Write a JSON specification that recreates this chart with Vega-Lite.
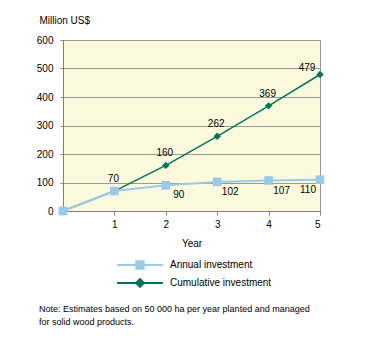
{
  "$schema": "https://vega.github.io/schema/vega-lite/v6.json",
  "width": 257,
  "height": 171,
  "autosize": {"type": "none"},
  "padding": {"left": 63, "top": 40, "right": 47, "bottom": 130},
  "background": "#ffffff",
  "config": {
    "font": "Liberation Sans",
    "view": {"fill": "#FCFADC", "stroke": "#999999", "strokeWidth": 1},
    "axis": {"labelFont": "Liberation Sans", "titleFont": "Liberation Sans", "labelColor": "#000000", "titleColor": "#000000", "labelFontSize": 10, "titleFontSize": 10, "titleFontWeight": "normal", "domainColor": "#7f7f7f", "tickColor": "#7f7f7f"}
  },
  "title": {
    "text": ["Note: Estimates based on 50 000 ha per year planted and managed", "for solid wood products."],
    "orient": "bottom",
    "anchor": "start",
    "frame": "group",
    "dx": -24,
    "offset": 14,
    "font": "Liberation Sans",
    "fontSize": 9,
    "fontWeight": "normal",
    "color": "#000000",
    "lineHeight": 13
  },
  "data": {
    "values": [
      {"year": 0, "series": "Annual investment", "value": 0},
      {"year": 1, "series": "Annual investment", "value": 70},
      {"year": 2, "series": "Annual investment", "value": 90},
      {"year": 3, "series": "Annual investment", "value": 102},
      {"year": 4, "series": "Annual investment", "value": 107},
      {"year": 5, "series": "Annual investment", "value": 110},
      {"year": 0, "series": "Cumulative investment", "value": 0},
      {"year": 1, "series": "Cumulative investment", "value": 70},
      {"year": 2, "series": "Cumulative investment", "value": 160},
      {"year": 3, "series": "Cumulative investment", "value": 262},
      {"year": 4, "series": "Cumulative investment", "value": 369},
      {"year": 5, "series": "Cumulative investment", "value": 479}
    ]
  },
  "encoding": {
    "x": {
      "field": "year", "type": "quantitative",
      "scale": {"domain": [0, 5], "nice": false, "zero": false},
      "axis": {"values": [1, 2, 3, 4, 5], "grid": false, "tickSize": 4, "labelPadding": 4, "title": "Year", "titlePadding": 9, "format": "d"}
    },
    "y": {
      "field": "value", "type": "quantitative",
      "scale": {"domain": [0, 600], "nice": false},
      "axis": {"values": [0, 100, 200, 300, 400, 500, 600], "grid": true, "gridColor": "#999999", "gridWidth": 1, "tickSize": 3, "labelPadding": 7, "title": "Million US$", "titleAngle": 0, "titleAlign": "left", "titleBaseline": "middle", "titleX": -24, "titleY": -20}
    }
  },
  "layer": [
    {
      "transform": [{"filter": "datum.series === 'Cumulative investment'"}],
      "mark": {"type": "line", "strokeWidth": 1.5},
      "encoding": {
        "color": {
          "field": "series", "type": "nominal",
          "scale": {"domain": ["Annual investment", "Cumulative investment"], "range": ["#9BCAE6", "#00745E"]},
          "legend": {
            "title": null,
            "orient": "none",
            "legendX": 67,
            "legendY": 215,
            "direction": "vertical",
            "symbolSize": 324,
            "symbolStrokeWidth": 2,
            "labelFont": "Liberation Sans",
            "labelFontSize": 10,
            "labelColor": "#000000",
            "labelOffset": 20,
            "rowPadding": 0,
            "encode": {
              "symbols": {
                "update": {
                  "shape": [
                    {"test": "datum.value === 'Annual investment'", "value": "M-2.55,0H2.55M-0.41,-0.41H0.41V0.41H-0.41Z"},
                    {"value": "M-2.55,0H2.55M0,-0.44L0.44,0L0,0.44L-0.44,0Z"}
                  ],
                  "fill": [
                    {"test": "datum.value === 'Annual investment'", "value": "#9BCAE6"},
                    {"value": "#00745E"}
                  ],
                  "stroke": [
                    {"test": "datum.value === 'Annual investment'", "value": "#9BCAE6"},
                    {"value": "#00745E"}
                  ],
                  "opacity": {"value": 1}
                }
              }
            }
          }
        }
      }
    },
    {
      "transform": [{"filter": "datum.series === 'Cumulative investment'"}],
      "mark": {"type": "point", "shape": "diamond", "filled": true, "size": 55, "opacity": 1, "color": "#00745E"}
    },
    {
      "transform": [{"filter": "datum.series === 'Annual investment'"}],
      "mark": {"type": "line", "strokeWidth": 2},
      "encoding": {"color": {"field": "series", "type": "nominal"}}
    },
    {
      "transform": [{"filter": "datum.series === 'Annual investment'"}],
      "mark": {"type": "point", "shape": "square", "filled": true, "size": 75, "opacity": 1, "color": "#9BCAE6"}
    },
    {
      "transform": [{"filter": "datum.series === 'Cumulative investment' && datum.year >= 1 && datum.year <= 4"}],
      "mark": {"type": "text", "dy": -12, "dx": -1, "fontSize": 10, "font": "Liberation Sans", "color": "#000000"},
      "encoding": {"text": {"field": "value", "type": "quantitative"}}
    },
    {
      "transform": [{"filter": "datum.series === 'Cumulative investment' && datum.year === 5"}],
      "mark": {"type": "text", "dy": -6, "dx": -13, "fontSize": 10, "font": "Liberation Sans", "color": "#000000"},
      "encoding": {"text": {"field": "value", "type": "quantitative"}}
    },
    {
      "transform": [{"filter": "datum.series === 'Annual investment' && datum.year >= 2 && datum.year <= 4"}],
      "mark": {"type": "text", "dy": 10, "dx": 13, "fontSize": 10, "font": "Liberation Sans", "color": "#000000"},
      "encoding": {"text": {"field": "value", "type": "quantitative"}}
    },
    {
      "transform": [{"filter": "datum.series === 'Annual investment' && datum.year === 5"}],
      "mark": {"type": "text", "dy": 10, "dx": -12, "fontSize": 10, "font": "Liberation Sans", "color": "#000000"},
      "encoding": {"text": {"field": "value", "type": "quantitative"}}
    }
  ]
}
